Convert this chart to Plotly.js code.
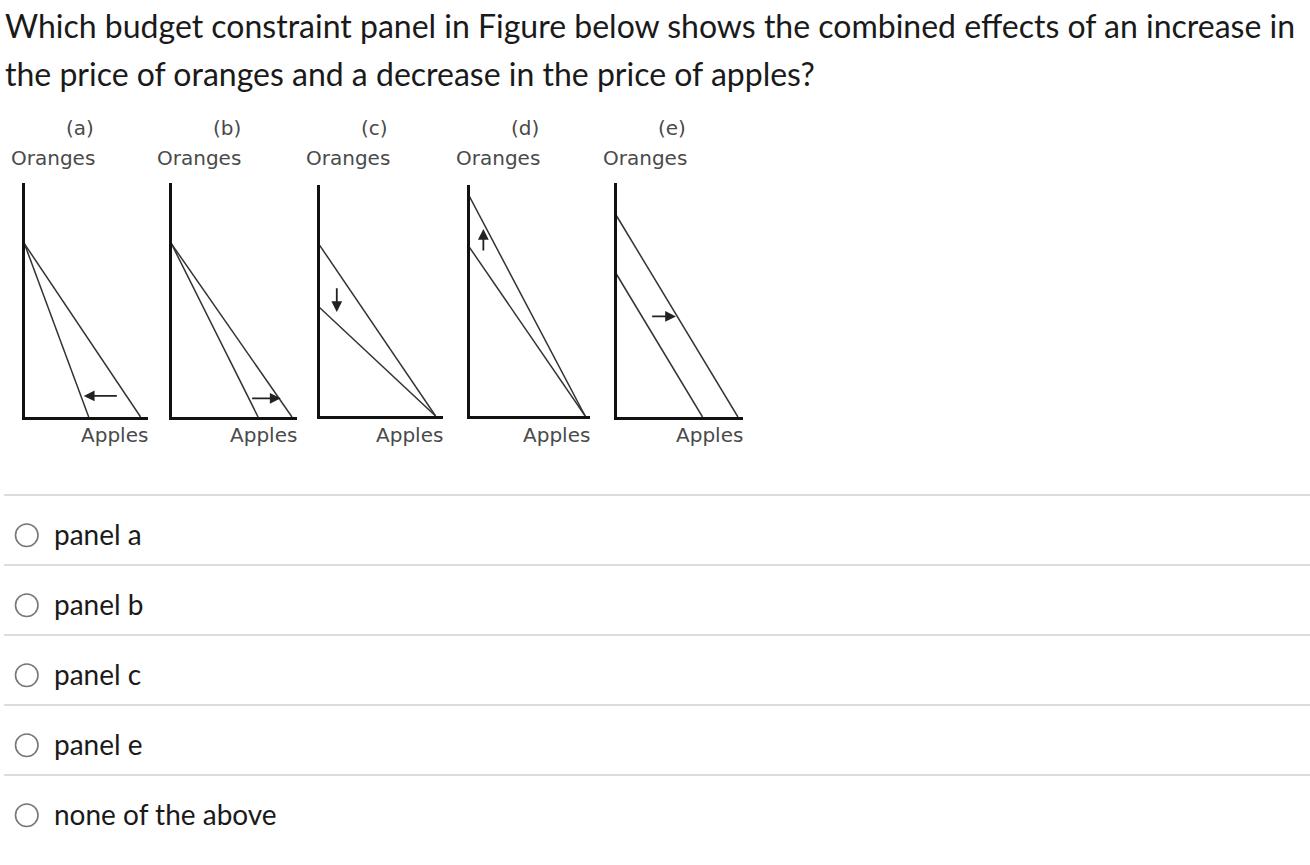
<!DOCTYPE html>
<html>
<head>
<meta charset="utf-8">
<script src="https://cdn.plot.ly/plotly-3.0.1.min.js"></script>
<style>
html,body{margin:0;padding:0;background:#fff;}
#chart{width:1310px;height:865px;}
</style>
</head>
<body>
<div id="chart"></div>
<script>
// ---- data ----
const questionLines = [
  "Which budget constraint panel in Figure below shows the combined effects of an increase in",
  "the price of oranges and a decrease in the price of apples?"
];
const panelLabels = ["(a)", "(b)", "(c)", "(d)", "(e)"];
const yAxisLabel = "Oranges";
const xAxisLabel = "Apples";
// budget line 1 (intercepts on Apples / Oranges axes)
const line1XInt = [94, 96, 94, 96, 96];
const line1YInt = [74, 74, 74, 95, 86];
// budget line 2
const line2XInt = [52, 69, 94, 96, 68];
const line2YInt = [74, 74, 47, 73, 61];
// shift arrows
const arrowFromX = [76, 63, 14, 11.5, 27];
const arrowFromY = [9, 8, 56, 71, 43];
const arrowToX = [48, 87, 14, 11.5, 47];
const arrowToY = [9, 8, 45, 81, 43];
const options = ["panel a", "panel b", "panel c", "panel e", "none of the above"];

// ---- layout helpers ----
const W = 1310, H = 865;
const X = px => px / W;
const Y = py => 1 - py / H;
// panel boxes in pixels: [left, right, top, bottom]
const boxes = [
  [24.5, 148, 183, 417],
  [171.5, 297, 183, 417],
  [319.5, 443, 185, 416],
  [469.5, 590, 185, 416],
  [616.5, 743, 183, 417]
];

const traces = [];
const layout = {
  width: W, height: H,
  margin: {l: 0, r: 0, t: 0, b: 0},
  paper_bgcolor: "#fff", plot_bgcolor: "rgba(0,0,0,0)",
  showlegend: false,
  annotations: [],
  shapes: []
};

const lblFont = {family: "DejaVu Sans", size: 20, color: "#4a4a4a"};

panelLabels.forEach((lab, i) => {
  const n = i === 0 ? "" : String(i + 1);
  const xa = "x" + n, ya = "y" + n;
  const [l, r, t, b] = boxes[i];
  layout["xaxis" + n] = {
    domain: [X(l), X(r)], range: [0, 100], anchor: ya,
    showline: true, linewidth: 3, linecolor: "#111",
    showgrid: false, zeroline: false, showticklabels: false, ticks: "", fixedrange: true
  };
  layout["yaxis" + n] = {
    domain: [Y(b), Y(t)], range: [0, 100], anchor: xa,
    showline: true, linewidth: 3, linecolor: "#111",
    showgrid: false, zeroline: false, showticklabels: false, ticks: "", fixedrange: true
  };
  traces.push({
    x: [0, line1XInt[i]], y: [line1YInt[i], 0], xaxis: xa, yaxis: ya,
    mode: "lines", line: {color: "#333", width: 1.5}, hoverinfo: "skip", cliponaxis: false
  });
  traces.push({
    x: [0, line2XInt[i]], y: [line2YInt[i], 0], xaxis: xa, yaxis: ya,
    mode: "lines", line: {color: "#333", width: 1.5}, hoverinfo: "skip", cliponaxis: false
  });
  layout.annotations.push({
    xref: xa, yref: ya, axref: xa, ayref: ya,
    x: arrowToX[i], y: arrowToY[i], ax: arrowFromX[i], ay: arrowFromY[i],
    text: "", showarrow: true, arrowhead: 2, arrowsize: 1.2, arrowwidth: 1.8, arrowcolor: "#222"
  });
  layout.annotations.push({
    xref: "paper", yref: "paper", x: X(l + 55), y: Y(128),
    text: lab, showarrow: false, xanchor: "center", yanchor: "middle", font: lblFont
  });
  layout.annotations.push({
    xref: "paper", yref: "paper", x: X(l + 28), y: Y(158),
    text: yAxisLabel, showarrow: false, xanchor: "center", yanchor: "middle", font: lblFont
  });
  layout.annotations.push({
    xref: "paper", yref: "paper", x: X(r - 34), y: Y(435),
    text: xAxisLabel, showarrow: false, xanchor: "center", yanchor: "middle", font: lblFont
  });
});

// question text
const qFont = {family: "Lato", size: 32, color: "#1a1a1a"};
questionLines.forEach((txt, k) => {
  layout.annotations.push({
    xref: "paper", yref: "paper", x: X(3), y: Y(26 + k * 47),
    text: txt, showarrow: false, xanchor: "left", yanchor: "middle", font: qFont
  });
});

// options with radio circles and separators
const sepY = [495, 565, 635, 705, 775];
sepY.forEach(py => {
  layout.shapes.push({
    type: "line", xref: "paper", yref: "paper",
    x0: X(4), x1: 1, y0: Y(py), y1: Y(py),
    line: {color: "#dcdcdc", width: 2}
  });
});
const optFont = {family: "Lato", size: 28, color: "#1a1a1a"};
options.forEach((txt, k) => {
  const cy = 535 + k * 70;
  layout.shapes.push({
    type: "circle", xref: "paper", yref: "paper",
    x0: X(15.5), x1: X(38), y0: Y(cy + 11.5), y1: Y(cy - 11),
    line: {color: "#777", width: 1.6}, fillcolor: "#fff"
  });
  layout.annotations.push({
    xref: "paper", yref: "paper", x: X(52), y: Y(cy - 1),
    text: txt, showarrow: false, xanchor: "left", yanchor: "middle", font: optFont
  });
});

Plotly.newPlot("chart", traces, layout, {displayModeBar: false, staticPlot: true});
</script>
</body>
</html>
